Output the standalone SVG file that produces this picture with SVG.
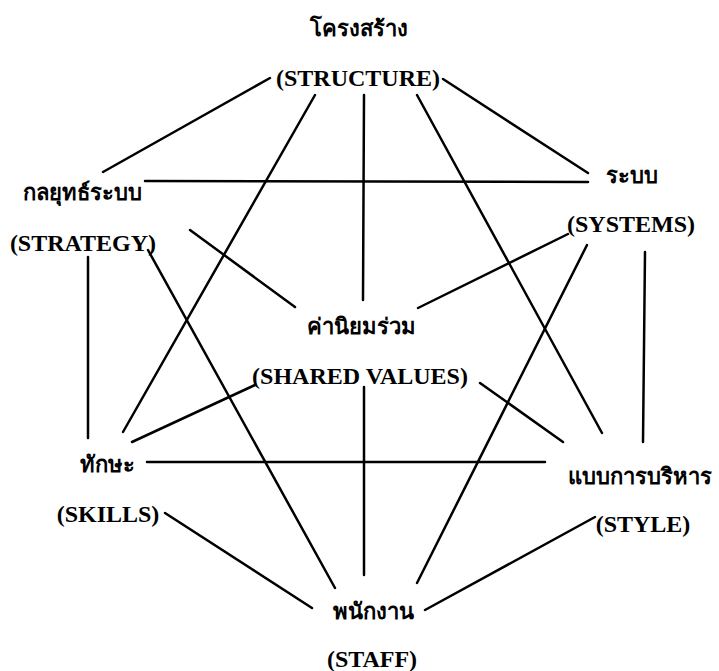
<svg xmlns="http://www.w3.org/2000/svg" width="719" height="671" viewBox="0 0 719 671">
<style>
.en{font-family:"Liberation Serif","Times New Roman",serif;font-size:24px;font-weight:bold;fill:#000;text-anchor:middle}
.th{font-family:"Noto Sans","DejaVu Sans",sans-serif;font-size:22px;font-weight:bold;fill:#000;text-anchor:middle}
.c line{stroke:#000;stroke-width:2.5;stroke-linecap:round}
</style>
<rect width="719" height="671" fill="#fff"/>
<g class="c" id="connectors">
<line x1="270" y1="78" x2="103" y2="172"/>
<line x1="443" y1="79" x2="588" y2="173"/>
<line x1="145" y1="181" x2="588" y2="182"/>
<line x1="315" y1="95" x2="123" y2="432"/>
<line x1="364" y1="95" x2="363" y2="300"/>
<line x1="417" y1="95" x2="602" y2="433"/>
<line x1="190" y1="230" x2="295" y2="307"/>
<line x1="148" y1="250" x2="335" y2="588"/>
<line x1="88" y1="257" x2="88" y2="438"/>
<line x1="568" y1="234" x2="418" y2="308"/>
<line x1="587" y1="245" x2="417" y2="583"/>
<line x1="645" y1="252" x2="643" y2="442"/>
<line x1="255" y1="385" x2="132" y2="442"/>
<line x1="480" y1="383" x2="563" y2="442"/>
<line x1="364" y1="387" x2="364" y2="575"/>
<line x1="147" y1="462" x2="545" y2="462"/>
<line x1="165" y1="513" x2="312" y2="608"/>
<line x1="595" y1="517" x2="425" y2="610"/>
</g>
<g id="structure">
<text class="th" x="359" y="36">โครงสร้าง</text>
<text class="en" x="358" y="86">(STRUCTURE)</text>
</g>
<g id="strategy">
<text class="th" x="82" y="200">กลยุทธ์ระบบ</text>
<text class="en" x="83" y="251">(STRATEGY)</text>
</g>
<g id="systems">
<text class="th" x="632" y="183">ระบบ</text>
<text class="en" x="631" y="232">(SYSTEMS)</text>
</g>
<g id="shared-values">
<text class="th" x="361" y="334">ค่านิยมร่วม</text>
<text class="en" x="360" y="384">(SHARED VALUES)</text>
</g>
<g id="skills">
<text class="th" x="107" y="472">ทักษะ</text>
<text class="en" x="108" y="522">(SKILLS)</text>
</g>
<g id="style">
<text class="th" x="640" y="484">แบบการบริหาร</text>
<text class="en" x="643" y="532">(STYLE)</text>
</g>
<g id="staff">
<text class="th" x="373" y="619">พนักงาน</text>
<text class="en" x="372" y="667">(STAFF)</text>
</g>
</svg>
